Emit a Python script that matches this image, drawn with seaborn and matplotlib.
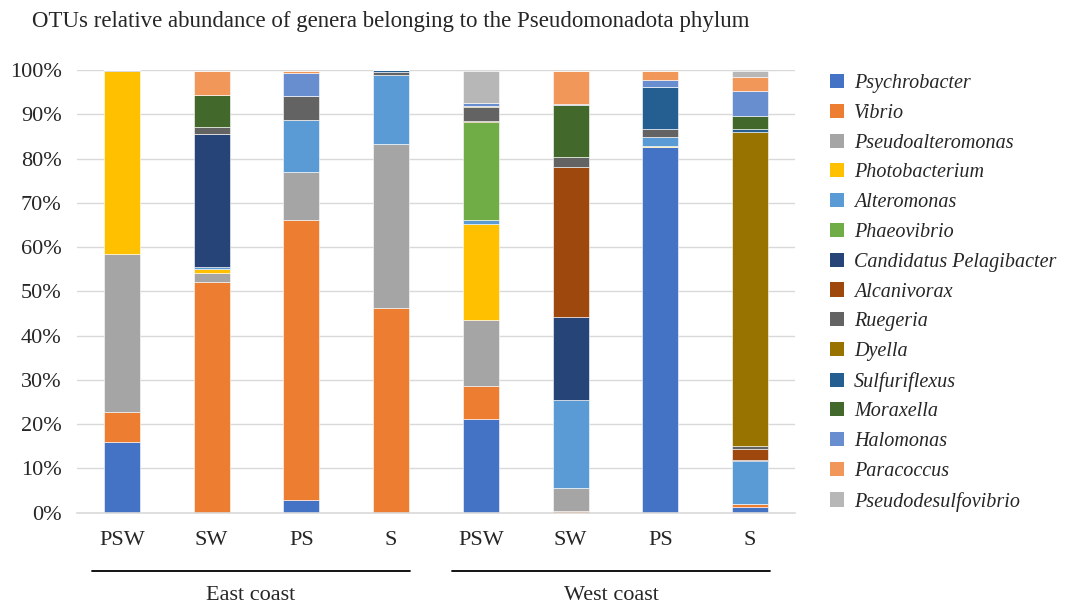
import numpy as np
import pandas as pd
import matplotlib
matplotlib.use("Agg")
import matplotlib.pyplot as plt
import matplotlib.transforms as mtransforms
from matplotlib.patches import Patch
import seaborn as sns

samples = ["E_PSW", "E_SW", "E_PS", "E_S", "W_PSW", "W_SW", "W_PS", "W_S"]
tick_labels = ["PSW", "SW", "PS", "S", "PSW", "SW", "PS", "S"]
groups = ["East coast", "West coast"]

genera = ["Psychrobacter", "Vibrio", "Pseudoalteromonas", "Photobacterium",
          "Alteromonas", "Phaeovibrio", "Candidatus Pelagibacter", "Alcanivorax",
          "Ruegeria", "Dyella", "Sulfuriflexus", "Moraxella", "Halomonas",
          "Paracoccus", "Pseudodesulfovibrio"]

colors = ["#4472C4", "#ED7D31", "#A5A5A5", "#FFC000", "#5B9BD5", "#70AD47",
          "#264478", "#9E480E", "#636363", "#997300", "#255E91", "#43682B",
          "#698ED0", "#F1975A", "#B7B7B7"]

# values in % per sample (order of samples)
psychrobacter       = [16.0, 0.0, 2.9, 0.0, 21.2, 0.0, 82.7, 1.3]
vibrio              = [6.8, 52.0, 63.2, 46.2, 7.5, 0.3, 0.0, 0.7]
pseudoalteromonas   = [35.7, 2.2, 10.9, 37.1, 14.8, 5.3, 0.0, 0.0]
photobacterium      = [41.3, 0.8, 0.0, 0.0, 21.7, 0.0, 0.2, 0.0]
alteromonas         = [0.0, 0.5, 11.7, 15.5, 0.9, 19.9, 2.0, 9.7]
phaeovibrio         = [0.0, 0.0, 0.0, 0.0, 22.1, 0.0, 0.0, 0.0]
candidatus          = [0.0, 30.0, 0.0, 0.0, 0.0, 18.6, 0.0, 0.3]
alcanivorax         = [0.0, 0.0, 0.0, 0.0, 0.2, 34.1, 0.0, 2.5]
ruegeria            = [0.2, 1.7, 5.5, 0.8, 3.3, 2.1, 1.8, 0.6]
dyella              = [0.0, 0.0, 0.0, 0.0, 0.2, 0.0, 0.0, 71.0]
sulfuriflexus       = [0.0, 0.0, 0.0, 0.4, 0.0, 0.0, 9.5, 0.6]
moraxella           = [0.0, 7.2, 0.0, 0.0, 0.0, 11.9, 0.0, 3.0]
halomonas           = [0.0, 0.0, 5.2, 0.0, 0.7, 0.2, 1.6, 5.6]
paracoccus          = [0.0, 5.4, 0.4, 0.0, 0.0, 7.4, 2.0, 3.1]
pseudodesulfovibrio = [0.0, 0.0, 0.0, 0.0, 7.1, 0.0, 0.0, 1.4]

series = [psychrobacter, vibrio, pseudoalteromonas, photobacterium, alteromonas,
          phaeovibrio, candidatus, alcanivorax, ruegeria, dyella, sulfuriflexus,
          moraxella, halomonas, paracoccus, pseudodesulfovibrio]

sns.set_theme(style="white")
plt.rcParams['font.family'] = ['Liberation Serif', 'DejaVu Serif']

fig = plt.figure(figsize=(10.65, 6.04), dpi=100)
ax = fig.add_axes([77/1065, 1 - 512.7/604, (795-77)/1065, (512.7-70)/604])

# grid
for v in np.arange(0.1, 1.01, 0.1):
    ax.axhline(v, color="#D9D9D9", lw=1.0, zorder=0)

bottom = np.zeros(len(samples))
for name, vals, col in zip(genera, series, colors):
    frac = np.array(vals) / 100.0
    df = pd.DataFrame({"sample": samples, "value": frac})
    sns.barplot(data=df, x="sample", y="value", order=samples, color=col,
                bottom=bottom, width=0.4, ax=ax, zorder=2, linewidth=0.4,
                edgecolor="white", saturation=1)
    bottom = bottom + frac

ax.set_xlim(-0.5, 7.5)
ax.set_ylim(0, 1.0)
ax.set_yticks(np.arange(0, 1.01, 0.1))
ax.set_yticklabels([f"{int(round(v*100))}%" for v in np.arange(0, 1.01, 0.1)], fontsize=16)
ax.set_xticks(range(len(samples)))
ax.set_xticklabels(tick_labels, fontsize=16)
ax.set_xlabel("")
ax.set_ylabel("")
ax.tick_params(axis="x", length=0, pad=13)
ax.tick_params(axis="y", length=0, pad=11)
for s in ["top", "right", "left"]:
    ax.spines[s].set_visible(False)
ax.spines["bottom"].set_color("#D9D9D9")
ax.spines["bottom"].set_linewidth(1.2)

trans = mtransforms.blended_transform_factory(ax.transData, ax.transAxes)
line_spans = [(-0.33, 3.21), (3.68, 7.22)]
for (x0, x1), g in zip(line_spans, groups):
    ax.plot([x0, x1], [-0.132, -0.132], color="black", lw=1.3, transform=trans, clip_on=False)
    ax.text((x0 + x1) / 2, -0.186, g, transform=trans, ha="center", va="center", fontsize=16)

fig.text(32/1065, 1 - 21/604, "OTUs relative abundance of genera belonging to the Pseudomonadota phylum",
         ha="left", va="center", fontsize=16.5)

handles = [Patch(facecolor=c, edgecolor="none") for c in colors]
leg = fig.legend(handles, genera, loc="upper left", bbox_to_anchor=(822/1065, 1 - 66/604),
                 frameon=False, prop={"family": "Liberation Serif", "style": "italic", "size": 14.5},
                 handlelength=0.7, handleheight=0.7, handletextpad=0.5, labelspacing=0.53,
                 borderaxespad=0)

fig.savefig("out.png", dpi=100)
